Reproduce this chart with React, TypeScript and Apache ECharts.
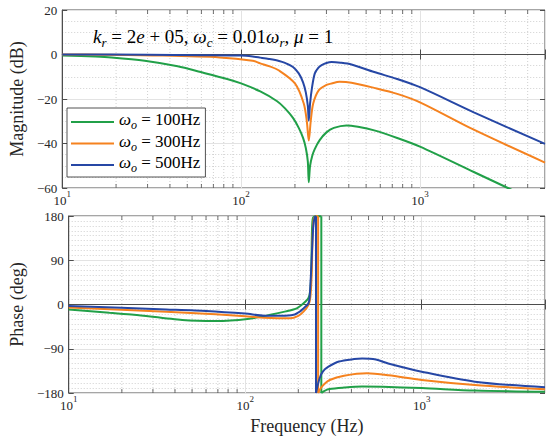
import React, { useEffect, useRef } from 'react';
import * as echarts from 'echarts';

const FONT = "'Liberation Serif', 'Times New Roman', serif";

const seriesNames = ['ωo = 100Hz', 'ωo = 300Hz', 'ωo = 500Hz'];
const seriesLabels = ['100Hz', '300Hz', '500Hz'];
const colors = ['#21a048', '#f5821f', '#2647a5'];

// Magnitude (dB): [frequency Hz, dB]
const magGreen: [number, number][] = [
  [10, -0.4], [15.3, -0.9], [18.8, -1.3], [28.9, -2.8], [44.2, -5.3], [59.5, -7.9], [83.5, -11.0],
  [100, -13], [128, -16.6], [159, -21], [176, -24.2], [195, -28.5], [210, -33], [222, -37.5],
  [230, -42], [236, -48], [239, -57.4], [243, -50], [250, -45.5], [258, -42.5], [275, -38.5],
  [300, -35], [330, -33], [388, -31.9], [450, -32.5], [555, -34.1], [746, -37.5], [1000, -41.4],
  [2000, -52.8], [3100, -60], [5000, -68],
];
const magOrange: [number, number][] = [
  [10, 0], [17, -0.1], [32, -0.4], [76, -1.3], [116, -2.8], [128, -4.0], [143, -5.2], [163, -7.2],
  [200, -13], [224, -22], [233, -30], [239, -38.7], [245, -30], [253, -22], [272, -16], [300, -13.7],
  [321, -13], [355, -12.3], [414, -12.7], [555, -15], [746, -17.7], [1000, -21.5], [2000, -33.8],
  [5000, -48.6],
];
const magBlue: [number, number][] = [
  [10, 0], [30, -0.1], [60, -0.3], [100, -0.5], [116, -0.9], [128, -1.4], [143, -2.0], [163, -2.9],
  [176, -3.8], [195, -5.6], [210, -8.5], [222, -12.5], [230, -17], [236, -23], [239, -29.7],
  [243, -22], [249, -15], [258, -8.6], [270, -6], [282, -4.8], [300, -3.8], [321, -3.4],
  [360, -3.7], [414, -4.5], [555, -7.9], [746, -11], [1000, -14.7], [2000, -26], [5000, -40.2],
];

// Phase (deg): part before the wrap and part after it
const phGreenPre: [number, number][] = [
  [10, -10], [17, -17], [23.4, -21], [44, -31.5], [68, -33.6], [103, -29.5], [139, -21],
  [170, -14], [196, -7.8], [215, 3], [228, 12.6], [234, 30], [237, 70], [239, 150], [242, 176],
  [250, 179.5], [270, 179.5],
];
const phGreenPost: [number, number][] = [
  [270, -180], [280, -176], [300, -172], [363, -169], [460, -167], [600, -167.5],
  [1000, -170], [2000, -175], [5000, -177.5],
];
const phOrangePre: [number, number][] = [
  [10, -6], [35.7, -14.6], [68, -20], [100, -24], [128, -26.8], [180, -28], [200, -23],
  [214, -14.6], [228, -1], [234, 15], [238, 60], [241, 140], [245, 175], [252, 179.5],
  [259, 179.5],
];
const phOrangePost: [number, number][] = [
  [259, -180], [268, -170], [280, -162], [301, -153.5], [363, -145], [490, -140], [650, -144],
  [1000, -153.5], [2000, -163.7], [5000, -172.5],
];
const phBluePre: [number, number][] = [
  [10, -3], [35.7, -10], [60, -13], [100, -18.5], [128, -22.7], [160, -23], [188, -21],
  [205, -14], [214, -8], [228, 2], [232, 16], [237, 77], [243, 158], [248, 178], [252, 179.5],
];
const phBluePost: [number, number][] = [
  [252, -180], [264, -150], [276, -136], [295, -127], [340, -116], [414, -111], [460, -110],
  [550, -112], [646, -120], [1000, -136.6], [2000, -157], [5000, -168.5],
];

const magData = [magGreen, magOrange, magBlue];
const phPre = [phGreenPre, phOrangePre, phBluePre];
const phPost = [phGreenPost, phOrangePost, phBluePost];

const xMin = 10;
const xMax = 5000;
const minorX = [20, 30, 40, 50, 60, 70, 80, 90, 200, 300, 400, 500, 600, 700, 800, 900, 2000, 3000, 4000];

const AXIS_COLOR = '#4d4d4d';
const TEXT_COLOR = '#262626';

function fmtY(v: number) {
  return String(v).replace('-', '\u2212');
}
function fmtX(v: number) {
  const l = Math.log10(v);
  if (Math.abs(l - Math.round(l)) > 1e-6) return '';
  return '{b|10}{s|' + Math.round(l) + '}';
}

const xRich = {
  b: { fontFamily: FONT, fontSize: 13, color: TEXT_COLOR, lineHeight: 14, padding: [5, 0, 0, 0], verticalAlign: 'top' },
  s: { fontFamily: FONT, fontSize: 9, color: TEXT_COLOR, lineHeight: 10, verticalAlign: 'top' },
};

function mainX(gi: number, showName: boolean) {
  return {
    type: 'log', gridIndex: gi, min: xMin, max: xMax, logBase: 10,
    axisLine: { show: true, lineStyle: { color: AXIS_COLOR, width: 1 } },
    axisTick: { show: true, inside: true, length: 5, lineStyle: { color: AXIS_COLOR } },
    axisLabel: { formatter: fmtX, margin: 1, rich: xRich, color: TEXT_COLOR },
    splitLine: { show: true, lineStyle: { color: '#e3e3e3', width: 1 } },
    name: showName ? 'Frequency (Hz)' : '',
    nameLocation: 'middle', nameGap: 24,
    nameTextStyle: { fontFamily: FONT, fontSize: 18, color: TEXT_COLOR },
  };
}
function topX(gi: number) {
  return {
    type: 'log', gridIndex: gi, min: xMin, max: xMax, logBase: 10, position: 'top',
    axisLine: { show: false },
    axisTick: { show: true, inside: true, length: 5, lineStyle: { color: AXIS_COLOR } },
    axisLabel: { show: false }, splitLine: { show: false },
  };
}
function mainY(gi: number, min: number, max: number, interval: number, minorSplit: number, name: string, nameGap: number) {
  return {
    type: 'value', gridIndex: gi, min, max, interval,
    axisLine: { show: true, lineStyle: { color: AXIS_COLOR, width: 1 } },
    axisTick: { show: true, inside: true, length: 5, lineStyle: { color: AXIS_COLOR } },
    axisLabel: { formatter: fmtY, margin: 5, fontFamily: FONT, fontSize: 13, color: TEXT_COLOR },
    splitLine: { show: true, lineStyle: { color: '#e3e3e3', width: 1 } },
    minorTick: { show: false, splitNumber: minorSplit },
    minorSplitLine: { show: true, lineStyle: { color: '#c4c4c4', width: 0.8, type: [1, 2] } },
    name, nameLocation: 'middle', nameGap, nameRotate: 90,
    nameTextStyle: { fontFamily: FONT, fontSize: 18, color: TEXT_COLOR },
  };
}
function rightY(gi: number, min: number, max: number, interval: number) {
  return {
    type: 'value', gridIndex: gi, min, max, interval, position: 'right',
    axisLine: { show: false },
    axisTick: { show: true, inside: true, length: 5, lineStyle: { color: AXIS_COLOR } },
    axisLabel: { show: false }, splitLine: { show: false },
  };
}

function minorSeries(xi: number, yi: number, yv: number) {
  return {
    type: 'custom', xAxisIndex: xi, yAxisIndex: yi, silent: true, z: 1,
    data: minorX.map((v) => [v, yv]),
    renderItem: (params: any, api: any) => {
      const cs = params.coordSys;
      const x = api.coord([api.value(0), yv])[0];
      const yb = cs.y + cs.height;
      return {
        type: 'group',
        children: [
          { type: 'line', shape: { x1: x, y1: cs.y, x2: x, y2: yb }, style: { stroke: '#c4c4c4', lineWidth: 0.8, lineDash: [1, 2] } },
          { type: 'line', shape: { x1: x, y1: yb, x2: x, y2: yb - 4 }, style: { stroke: AXIS_COLOR, lineWidth: 0.8 } },
          { type: 'line', shape: { x1: x, y1: cs.y, x2: x, y2: cs.y + 4 }, style: { stroke: AXIS_COLOR, lineWidth: 0.8 } },
        ],
      };
    },
  };
}

const titleRich = {
  i: { fontFamily: FONT, fontStyle: 'italic', fontWeight: 'normal', fontSize: 19, color: '#000', lineHeight: 20, padding: [0, 0, 3, 0], verticalAlign: 'bottom' },
  n: { fontFamily: FONT, fontWeight: 'normal', fontSize: 19, color: '#000', lineHeight: 20, padding: [0, 0, 3, 0], verticalAlign: 'bottom' },
  sb: { fontFamily: FONT, fontStyle: 'italic', fontWeight: 'normal', fontSize: 13, color: '#000', lineHeight: 12, verticalAlign: 'bottom' },
};
const titleText =
  '{i|k}{sb|r}{n| = 2}{i|e}{n| + 05, }{i|ω}{sb|c}{n| = 0.01}{i|ω}{sb|r}{n|, }{i|μ}{n| = 1}';

const legendRich = {
  w: { fontFamily: FONT, fontStyle: 'italic', fontSize: 17, color: '#000', lineHeight: 18, padding: [0, 0, 3, 0], verticalAlign: 'bottom' },
  s: { fontFamily: FONT, fontStyle: 'italic', fontSize: 12, color: '#000', lineHeight: 12, verticalAlign: 'bottom' },
  t: { fontFamily: FONT, fontSize: 17, color: '#000', lineHeight: 18, padding: [0, 0, 3, 0], verticalAlign: 'bottom' },
};

function lineSeries(k: number, gi: number, data: [number, number][], smooth: number) {
  return {
    type: 'line', name: seriesNames[k], xAxisIndex: gi, yAxisIndex: gi, data,
    showSymbol: false, symbol: 'none', smooth, clip: true, z: 3,
    lineStyle: { color: colors[k], width: 2 }, itemStyle: { color: colors[k] },
  };
}

export default function App() {
  const ref = useRef<HTMLDivElement>(null);
  useEffect(() => {
    if (!ref.current) return;
    const chart = echarts.init(ref.current, undefined, { renderer: 'svg' });
    const series: any[] = [];
    for (let k = 0; k < 3; k++) {
      series.push(lineSeries(k, 0, magData[k], 0.3));
      series.push(lineSeries(k, 1, phPre[k], 0.25));
      const pre = phPre[k];
      const post = phPost[k];
      series.push(lineSeries(k, 1, [pre[pre.length - 1], post[0]], 0));
      series.push(lineSeries(k, 1, post, 0.3));
    }
    series.push(minorSeries(0, 0, -60));
    series.push(minorSeries(1, 1, -180));

    chart.setOption({
      animation: false,
      backgroundColor: '#fff',
      title: {
        text: titleText, left: 88, top: 24,
        textStyle: { fontWeight: 'normal', rich: titleRich },
      },
      legend: {
        data: seriesNames, orient: 'vertical', left: 67, top: 108,
        icon: 'rect', itemWidth: 43, itemHeight: 2, itemGap: 1.5,
        padding: [3, 5, 3, 4],
        backgroundColor: '#fff', borderColor: '#262626', borderWidth: 0.8,
        formatter: (name: string) => {
          const i = seriesNames.indexOf(name);
          return '{w|ω}{s|o}{t| = ' + seriesLabels[i] + '}';
        },
        textStyle: { rich: legendRich },
        selectedMode: false,
      },
      grid: [
        { left: 58, top: 10, width: 487, height: 178, show: true, borderColor: AXIS_COLOR, borderWidth: 1, containLabel: false },
        { left: 58, top: 216, width: 487, height: 177, show: true, borderColor: AXIS_COLOR, borderWidth: 1, containLabel: false },
      ],
      xAxis: [mainX(0, false), mainX(1, true), topX(0), topX(1)],
      yAxis: [
        mainY(0, -60, 20, 20, 4, 'Magnitude (dB)', 30),
        mainY(1, -180, 180, 90, 9, 'Phase (deg)', 37),
        rightY(0, -60, 20, 20),
        rightY(1, -180, 180, 90),
      ],
      series,
    });
    return () => chart.dispose();
  }, []);
  return <div ref={ref} style={{ position: 'fixed', left: 0, top: 0, width: 550, height: 440 }} />;
}
